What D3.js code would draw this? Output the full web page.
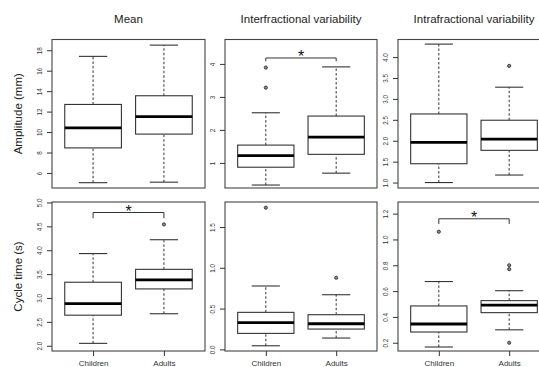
<!DOCTYPE html>
<html>
<head>
<meta charset="utf-8">
<script src="https://cdn.jsdelivr.net/npm/d3@7"></script>
<style>
  body { margin: 0; background: #fff; }
  svg { display: block; font-family: "Liberation Sans", Arial, Helvetica, sans-serif; }
</style>
</head>
<body>
<svg id="chart"></svg>
<script>
// groups and labels
var groups = ["Children", "Adults"];
var colTitles = ["Mean", "Interfractional variability", "Intrafractional variability"];
var rowTitles = ["Amplitude (mm)", "Cycle time (s)"];

// box stats per group: [lower whisker, q1, median, q3, upper whisker]
var ampMeanStats = [[5.05, 8.45, 10.4, 12.7, 17.4], [5.1, 9.8, 11.5, 13.55, 18.5]];
var ampInterStats = [[0.33, 0.87, 1.22, 1.54, 2.52], [0.69, 1.26, 1.78, 2.42, 3.91]];
var ampIntraStats = [[1.0, 1.45, 1.96, 2.64, 4.31], [1.18, 1.77, 2.04, 2.49, 3.28]];
var cycMeanStats = [[2.05, 2.64, 2.88, 3.33, 3.93], [2.67, 3.19, 3.38, 3.60, 4.22]];
var cycInterStats = [[0.044, 0.196, 0.327, 0.454, 0.777], [0.139, 0.249, 0.314, 0.425, 0.670]];
var cycIntraStats = [[0.167, 0.283, 0.345, 0.485, 0.674], [0.30, 0.433, 0.492, 0.526, 0.603]];

// outliers per group
var ampMeanOut = [[], []];
var ampInterOut = [[3.28, 3.89], []];
var ampIntraOut = [[], [3.79]];
var cycMeanOut = [[], [4.54]];
var cycInterOut = [[1.737], [0.878]];
var cycIntraOut = [[1.06], [0.20, 0.77, 0.80]];

// y limits of each panel
var ampMeanLim = [4.53, 19.05];
var ampInterLim = [0.24, 4.74];
var ampIntraLim = [0.87, 4.42];
var cycMeanLim = [1.89, 5.01];
var cycInterLim = [-0.02, 1.807];
var cycIntraLim = [0.136, 1.29];

// y ticks
var ampMeanTicks = [6, 8, 10, 12, 14, 16, 18];
var ampInterTicks = [1, 2, 3, 4];
var ampIntraTicks = [1.0, 1.5, 2.0, 2.5, 3.0, 3.5, 4.0];
var cycMeanTicks = [2.0, 2.5, 3.0, 3.5, 4.0, 4.5, 5.0];
var cycInterTicks = [0.0, 0.5, 1.0, 1.5];
var cycIntraTicks = [0.2, 0.4, 0.6, 0.8, 1.0, 1.2];

// significance brackets: [end of legs, bar level]
var ampInterBracket = [4.08, 4.18];
var cycMeanBracket = [4.67, 4.79];
var cycIntraBracket = [1.12, 1.16];

var panels = [
  {row: 0, col: 0, stats: ampMeanStats, out: ampMeanOut, lim: ampMeanLim, ticks: ampMeanTicks, fmt: "d", bracket: null},
  {row: 0, col: 1, stats: ampInterStats, out: ampInterOut, lim: ampInterLim, ticks: ampInterTicks, fmt: "d", bracket: ampInterBracket},
  {row: 0, col: 2, stats: ampIntraStats, out: ampIntraOut, lim: ampIntraLim, ticks: ampIntraTicks, fmt: ".1f", bracket: null},
  {row: 1, col: 0, stats: cycMeanStats, out: cycMeanOut, lim: cycMeanLim, ticks: cycMeanTicks, fmt: ".1f", bracket: cycMeanBracket},
  {row: 1, col: 1, stats: cycInterStats, out: cycInterOut, lim: cycInterLim, ticks: cycInterTicks, fmt: ".1f", bracket: null},
  {row: 1, col: 2, stats: cycIntraStats, out: cycIntraOut, lim: cycIntraLim, ticks: cycIntraTicks, fmt: ".1f", bracket: cycIntraBracket}
];

var width = 539;
var height = 367;
var colX = [[52, 205], [225, 377], [398, 550]];
var rowY = [[39.5, 188], [202, 351]];
var ink = "#333";

var chart = d3.select("#chart")
  .attr("width", width)
  .attr("height", height);

// column titles
chart.selectAll("text.coltitle")
  .data(colTitles)
  .enter().append("text")
    .attr("class", "coltitle")
    .attr("x", (d, i) => (colX[i][0] + colX[i][1]) / 2)
    .attr("y", 23)
    .attr("text-anchor", "middle")
    .attr("font-size", 11.5)
    .attr("fill", "#222")
    .text(d => d);

// row titles
chart.selectAll("text.rowtitle")
  .data(rowTitles)
  .enter().append("text")
    .attr("class", "rowtitle")
    .attr("transform", (d, i) => `translate(21.5, ${(rowY[i][0] + rowY[i][1]) / 2}) rotate(-90)`)
    .attr("text-anchor", "middle")
    .attr("font-size", 11.5)
    .attr("fill", "#222")
    .text(d => d);

panels.forEach(function(p) {
  var x0 = colX[p.col][0], x1 = colX[p.col][1];
  var y0 = rowY[p.row][0], y1 = rowY[p.row][1];

  // R style: groups at 1, 2 with 4% padding on 0.5..2.5
  var x = d3.scaleLinear().domain([0.42, 2.58]).range([x0, x1]);
  var y = d3.scaleLinear().domain(p.lim).range([y1, y0]);
  var bw = x(1.4) - x(0.6);

  var g = chart.append("g");

  var boxes = g.selectAll("g.box")
      .data(p.stats)
    .enter().append("g")
      .attr("class", "box");

  // dashed whiskers
  boxes.append("line")
    .attr("x1", (d, i) => x(i + 1)).attr("x2", (d, i) => x(i + 1))
    .attr("y1", d => y(d[3])).attr("y2", d => y(d[4]))
    .attr("stroke", ink).attr("stroke-dasharray", "2.5,2");
  boxes.append("line")
    .attr("x1", (d, i) => x(i + 1)).attr("x2", (d, i) => x(i + 1))
    .attr("y1", d => y(d[0])).attr("y2", d => y(d[1]))
    .attr("stroke", ink).attr("stroke-dasharray", "2.5,2");

  // staples
  [0, 4].forEach(function(k) {
    boxes.append("line")
      .attr("x1", (d, i) => x(i + 1) - bw / 4).attr("x2", (d, i) => x(i + 1) + bw / 4)
      .attr("y1", d => y(d[k])).attr("y2", d => y(d[k]))
      .attr("stroke", ink).attr("stroke-width", 1.1);
  });

  boxes.append("rect")
    .attr("x", (d, i) => x(i + 1) - bw / 2)
    .attr("width", bw)
    .attr("y", d => y(d[3]))
    .attr("height", d => y(d[1]) - y(d[3]))
    .attr("fill", "#fff")
    .attr("stroke", ink)
    .attr("stroke-width", 1.1);

  boxes.append("line")
    .attr("x1", (d, i) => x(i + 1) - bw / 2).attr("x2", (d, i) => x(i + 1) + bw / 2)
    .attr("y1", d => y(d[2])).attr("y2", d => y(d[2]))
    .attr("stroke", "#000").attr("stroke-width", 2.8);

  // outliers
  p.out.forEach(function(vals, i) {
    g.selectAll(null)
        .data(vals)
      .enter().append("circle")
        .attr("cx", x(i + 1))
        .attr("cy", d => y(d))
        .attr("r", 1.6)
        .attr("fill", "#888")
        .attr("stroke", ink)
        .attr("stroke-width", 0.9);
  });

  // significance bracket
  if (p.bracket) {
    var b = p.bracket;
    g.append("path")
      .attr("d", `M${x(1)},${y(b[0])}V${y(b[1])}H${x(2)}V${y(b[0])}`)
      .attr("fill", "none")
      .attr("stroke", ink)
      .attr("stroke-width", 1);
    g.append("text")
      .attr("x", (x(1) + x(2)) / 2)
      .attr("y", y(b[1]) - 5 + 0.58 * 16)
      .attr("text-anchor", "middle")
      .attr("font-size", 16)
      .attr("fill", "#111")
      .text("*");
  }

  // frame
  g.append("rect")
    .attr("x", x0).attr("y", y0)
    .attr("width", x1 - x0).attr("height", y1 - y0)
    .attr("fill", "none")
    .attr("stroke", "#444")
    .attr("stroke-width", 1.1);

  // y axis, labels rotated as in R
  var yAxis = g.append("g")
    .attr("transform", `translate(${x0},0)`)
    .call(d3.axisLeft(y).tickValues(p.ticks).tickSize(5).tickFormat(d3.format(p.fmt)));
  yAxis.select(".domain").remove();
  yAxis.selectAll("line").attr("stroke", ink);
  yAxis.selectAll("text")
    .attr("x", null).attr("dy", null)
    .attr("transform", "translate(-10.3,0) rotate(-90)")
    .attr("text-anchor", "middle")
    .attr("font-family", "Liberation Sans, Arial, sans-serif")
    .attr("font-size", 6.3)
    .attr("fill", "#333");

  // x axis on bottom row only
  if (p.row === 1) {
    var xAxis = g.append("g")
      .attr("transform", `translate(0,${y1})`)
      .call(d3.axisBottom(x).tickValues([1, 2]).tickSize(5).tickFormat((d, i) => groups[i]));
    xAxis.select(".domain").remove();
    xAxis.selectAll("line").attr("stroke", ink);
    xAxis.selectAll("text")
      .attr("y", 15).attr("dy", null)
      .attr("font-family", "Liberation Sans, Arial, sans-serif")
      .attr("font-size", 8)
      .attr("fill", "#333");
  }
});
</script>
</body>
</html>
